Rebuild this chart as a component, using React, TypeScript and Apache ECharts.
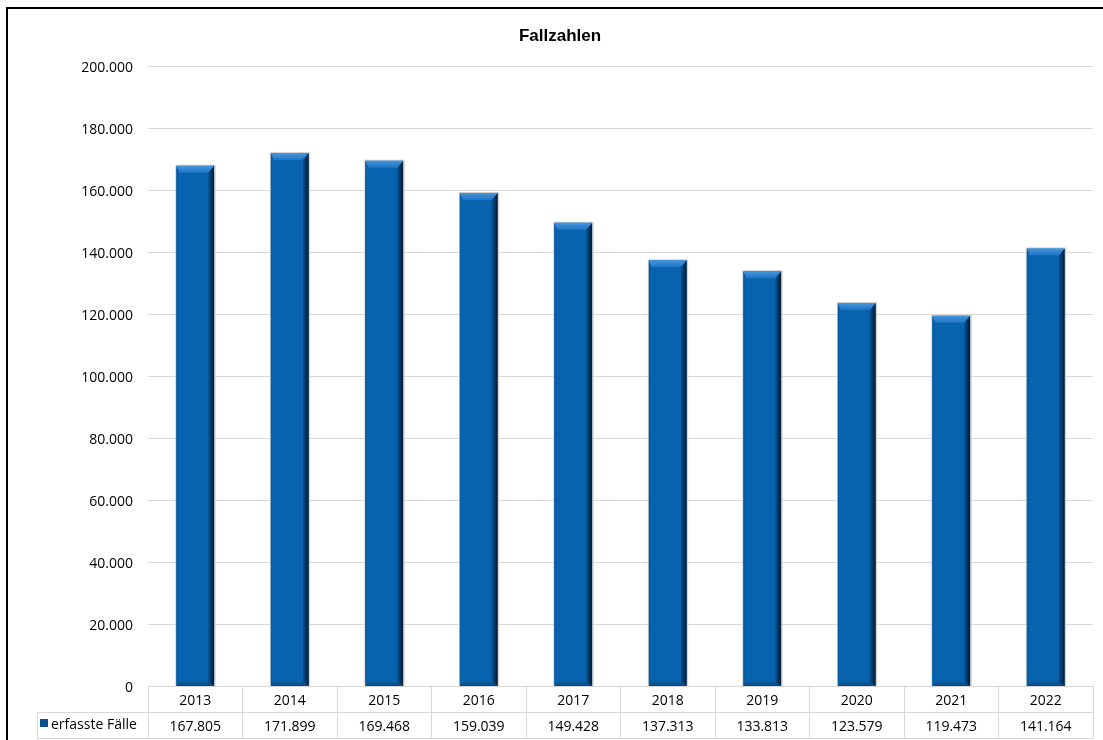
import React, { useEffect, useRef } from "react";
import * as echarts from "echarts";

const years = ["2013", "2014", "2015", "2016", "2017", "2018", "2019", "2020", "2021", "2022"];
const cases = [167805, 171899, 169468, 159039, 149428, 137313, 133813, 123579, 119473, 141164];
const seriesName = "erfasste Fälle";
const chartTitle = "Fallzahlen";
const yMax = 200000;
const yStep = 20000;

const fmt = (v: number) => {
  const s = Math.round(v).toString();
  return s.replace(/\B(?=(\d{3})+(?!\d))/g, ".");
};

const FONT = "'Open Sans', 'Noto Sans', sans-serif";
const GRID_LINE = "#d9d9d9";

export default function App() {
  const ref = useRef<HTMLDivElement>(null);
  useEffect(() => {
    if (!ref.current) return;
    const chart = echarts.init(ref.current, null, { renderer: "svg" });
    const LG = echarts.graphic.LinearGradient;

    const renderItem = (params: any, api: any) => {
      const idx = api.value(0);
      const val = api.value(1);
      const top = api.coord([idx, val]);
      const base = api.coord([idx, 0]);
      const bw = api.size([1, 0])[0] * 0.4;
      const x0 = top[0] - bw / 2;
      const x1 = top[0] + bw / 2;
      const yt = top[1];
      const yb = base[1];
      const bt = 7;
      const bs = 6;
      const bl = 3;
      const bb = 4;
      return {
        type: "group",
        children: [
          {
            type: "rect",
            shape: { x: x0 - 0.5, y: yt - 0.5, width: bw + 1.5, height: yb - yt + 0.5 },
            style: { fill: "none", stroke: "#cfcfcf", lineWidth: 1 },
          },
          {
            type: "rect",
            shape: { x: x0, y: yt, width: bw, height: yb - yt },
            style: { fill: "#0863ae" },
          },
          {
            type: "polygon",
            shape: { points: [[x0, yt], [x0 + bl, yt + bt], [x0 + bl, yb - bb], [x0, yb]] },
            style: { fill: new LG(0, 0, 1, 0, [{ offset: 0, color: "#09569a" }, { offset: 1, color: "#0966b2" }]) },
          },
          {
            type: "polygon",
            shape: { points: [[x1, yt], [x1, yb], [x1 - bs, yb - bb], [x1 - bs, yt + bt]] },
            style: { fill: new LG(0, 0, 1, 0, [{ offset: 0, color: "#07559a" }, { offset: 1, color: "#03182c" }]) },
          },
          {
            type: "polygon",
            shape: { points: [[x0, yb], [x1, yb], [x1 - bs, yb - bb], [x0 + bl, yb - bb]] },
            style: { fill: new LG(0, 0, 0, 1, [{ offset: 0, color: "#08589f" }, { offset: 1, color: "#0a4a84" }]) },
          },
          {
            type: "polygon",
            shape: { points: [[x0, yt], [x1, yt], [x1 - bs, yt + bt], [x0 + bl, yt + bt]] },
            style: { fill: new LG(0, 0, 0, 1, [{ offset: 0, color: "#4596de" }, { offset: 1, color: "#1f74c3" }]) },
          },
        ],
      };
    };

    chart.setOption({
      animation: false,
      grid: { left: 148, right: 10, top: 66, bottom: 54, containLabel: false },
      legend: {
        data: [{ name: seriesName, icon: "rect" }],
        left: 40,
        top: 716,
        itemWidth: 8,
        itemHeight: 8,
        itemGap: 3,
        padding: 0,
        selectedMode: false,
        textStyle: { fontFamily: FONT, fontSize: 14, color: "#000", padding: [0, 0, 0, -2] },
      },
      xAxis: [
        {
          type: "category",
          data: years,
          position: "bottom",
          axisLine: { show: true, lineStyle: { color: GRID_LINE, width: 1 } },
          axisTick: { show: true, length: 52, interval: 0, lineStyle: { color: GRID_LINE, width: 1 } },
          axisLabel: { fontFamily: FONT, fontSize: 14, color: "#000", margin: 6, interval: 0 },
        },
        {
          type: "category",
          data: cases.map(fmt),
          position: "bottom",
          offset: 26,
          axisLine: { show: true, lineStyle: { color: GRID_LINE, width: 1 } },
          axisTick: { show: false },
          axisLabel: { fontFamily: FONT, fontSize: 14, color: "#000", margin: 6, interval: 0 },
        },
        {
          type: "category",
          data: years,
          position: "bottom",
          offset: 52,
          axisLine: { show: true, lineStyle: { color: GRID_LINE, width: 1 } },
          axisTick: { show: false },
          axisLabel: { show: false },
        },
      ],
      yAxis: {
        type: "value",
        min: 0,
        max: yMax,
        interval: yStep,
        axisLine: { show: false },
        axisTick: { show: false },
        splitLine: { show: true, lineStyle: { color: GRID_LINE, width: 1 } },
        axisLabel: { fontFamily: FONT, fontSize: 14, color: "#000", margin: 15, formatter: (v: number) => fmt(v) },
      },
      series: [
        {
          name: seriesName,
          type: "custom",
          xAxisIndex: 0,
          itemStyle: { color: "#0a4f8e" },
          renderItem,
          encode: { x: 0, y: 1 },
          data: cases.map((v, i) => [i, v]),
          z: 3,
        },
      ],
      graphic: [
        {
          type: "rect",
          shape: { x: 7, y: 8, width: 1300, height: 1000 },
          style: { fill: "none", stroke: "#000", lineWidth: 2 },
          silent: true,
        },
        {
          type: "polyline",
          shape: { points: [[148, 712.5], [37.5, 712.5], [37.5, 738.5], [148, 738.5]] },
          style: { fill: "none", stroke: GRID_LINE, lineWidth: 1 },
          silent: true,
        },
        {
          type: "text",
          x: 560,
          y: 35,
          style: {
            text: chartTitle,
            textAlign: "center",
            textVerticalAlign: "middle",
            font: "bold 17px 'Liberation Sans', Arial, sans-serif",
            fill: "#000",
          },
        },
      ],
    });
    return () => chart.dispose();
  }, []);
  return <div ref={ref} style={{ position: "fixed", left: 0, top: 0, width: 1103, height: 740 }} />;
}
